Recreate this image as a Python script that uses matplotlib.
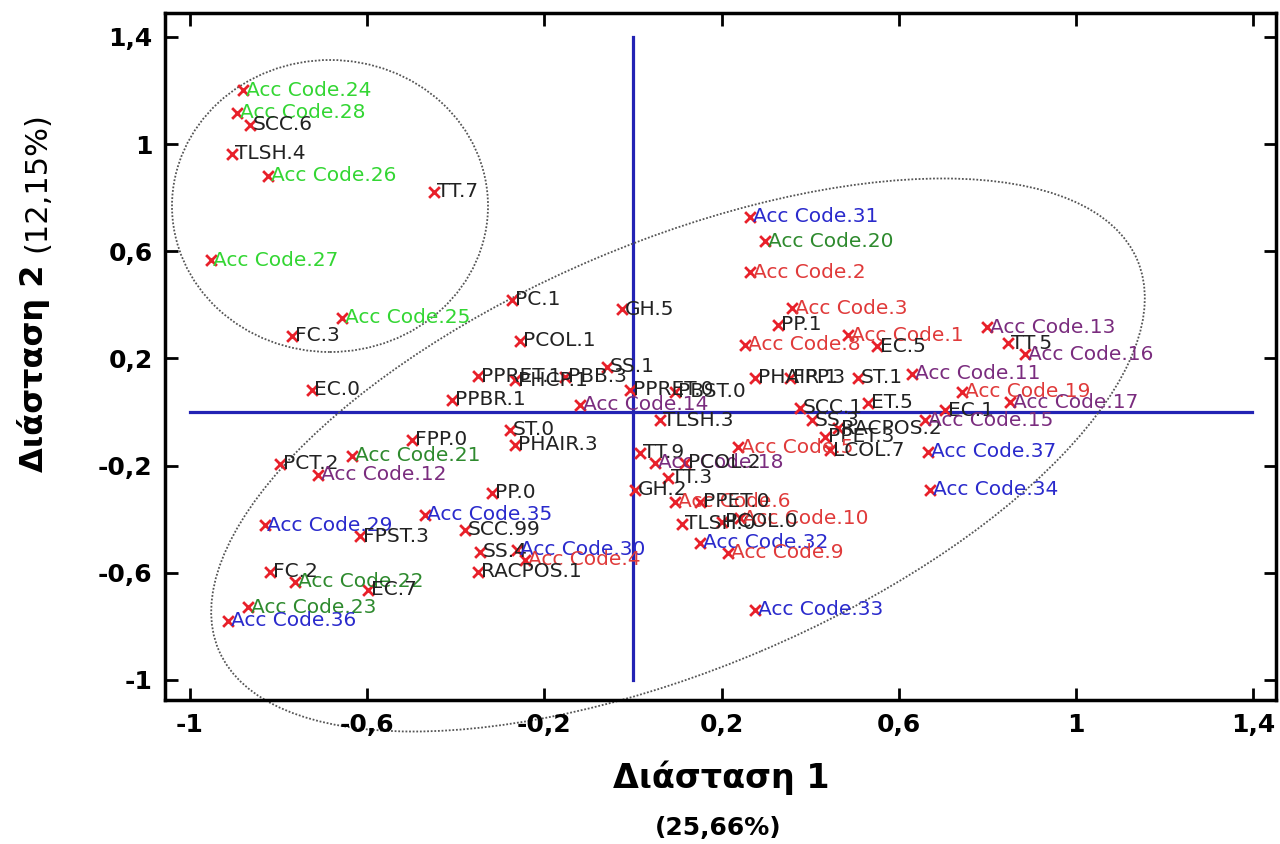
import matplotlib
matplotlib.use('Agg')
import matplotlib.pyplot as plt
from matplotlib.patches import Ellipse
from matplotlib.transforms import IdentityTransform

# ---------------- data ----------------
labels = [
    "Acc Code.24", "Acc Code.28", "SCC.6", "TLSH.4", "Acc Code.26", "TT.7", "Acc Code.27",
    "Acc Code.25", "FC.3", "EC.0", "PC.1", "PCOL.1", "GH.5", "PPRET.1", "PHCP.1", "PBB.3",
    "SS.1", "PPBR.1", "Acc Code.14", "PPRET.0", "PBST.0", "TLSH.3", "ST.0", "PHAIR.3",
    "FPP.0", "PCT.2", "Acc Code.21", "Acc Code.12", "PP.0", "Acc Code.35", "Acc Code.29",
    "FPST.3", "SCC.99", "SS.4", "Acc Code.30", "Acc Code.4", "RACPOS.1", "FC.2",
    "Acc Code.22", "EC.7", "Acc Code.23", "Acc Code.36",
    "Acc Code.31", "Acc Code.20", "Acc Code.2", "Acc Code.3", "PP.1", "Acc Code.1",
    "Acc Code.8", "EC.5", "PHAIR.1", "FPP.3", "ST.1", "Acc Code.11", "Acc Code.13", "TT.5",
    "Acc Code.16", "Acc Code.19", "Acc Code.17", "ET.5", "SCC.1", "SS.3", "RACPOS.2",
    "PPET.3", "EC.1", "Acc Code.15", "Acc Code.5", "LCOL.7", "Acc Code.37", "Acc Code.34",
    "TT.9", "Acc Code.18", "PCOL.2", "TT.3", "GH.2", "Acc Code.6", "PPET.0", "TLSH.0",
    "Acc Code.10", "PCOL.0", "Acc Code.32", "Acc Code.9", "Acc Code.33",
]
dim1 = [
    -0.880, -0.894, -0.865, -0.905, -0.824, -0.449, -0.953,
    -0.657, -0.770, -0.725, -0.273, -0.255, -0.025, -0.350, -0.266, -0.153,
    -0.059, -0.409, -0.120, -0.007, 0.095, 0.061, -0.278, -0.266,
    -0.499, -0.797, -0.634, -0.711, -0.318, -0.470, -0.831,
    -0.616, -0.379, -0.345, -0.262, -0.244, -0.350, -0.819,
    -0.763, -0.598, -0.869, -0.914,
    0.264, 0.298, 0.264, 0.359, 0.327, 0.485,
    0.253, 0.551, 0.275, 0.354, 0.508, 0.630, 0.799, 0.847,
    0.885, 0.743, 0.851, 0.530, 0.377, 0.404, 0.463,
    0.433, 0.704, 0.659, 0.237, 0.445, 0.666, 0.670,
    0.016, 0.050, 0.117, 0.079, 0.005, 0.095, 0.151, 0.111,
    0.242, 0.201, 0.151, 0.214, 0.275,
]
dim2 = [
    1.201, 1.116, 1.071, 0.963, 0.881, 0.821, 0.567,
    0.351, 0.284, 0.082, 0.418, 0.265, 0.384, 0.134, 0.119, 0.131,
    0.168, 0.045, 0.026, 0.082, 0.075, -0.030, -0.067, -0.123,
    -0.104, -0.194, -0.164, -0.235, -0.302, -0.384, -0.422,
    -0.463, -0.440, -0.522, -0.515, -0.552, -0.597, -0.597,
    -0.634, -0.664, -0.728, -0.780,
    0.728, 0.638, 0.522, 0.388, 0.325, 0.287,
    0.250, 0.246, 0.127, 0.127, 0.127, 0.142, 0.317, 0.257,
    0.216, 0.075, 0.037, 0.034, 0.015, -0.030, -0.060,
    -0.093, 0.007, -0.030, -0.131, -0.142, -0.149, -0.291,
    -0.153, -0.190, -0.190, -0.246, -0.291, -0.336, -0.336, -0.418,
    -0.396, -0.410, -0.489, -0.526, -0.739,
]
groups = [
    "lime", "lime", "var", "var", "lime", "var", "lime",
    "lime", "var", "var", "var", "var", "var", "var", "var", "var",
    "var", "var", "purple", "var", "var", "var", "var", "var",
    "var", "var", "dkgreen", "purple", "var", "blue", "blue",
    "var", "var", "var", "blue", "red", "var", "var",
    "dkgreen", "var", "dkgreen", "blue",
    "blue", "dkgreen", "red", "red", "var", "red",
    "red", "var", "var", "var", "var", "purple", "purple", "var",
    "purple", "red", "purple", "var", "var", "var", "var",
    "var", "var", "purple", "red", "var", "blue", "blue",
    "var", "purple", "var", "var", "var", "red", "var", "var",
    "red", "var", "blue", "red", "blue",
]
xticks = [-1, -0.6, -0.2, 0.2, 0.6, 1, 1.4]
xtick_labels = ["-1", "-0,6", "-0,2", "0,2", "0,6", "1", "1,4"]
yticks = [-1, -0.6, -0.2, 0.2, 0.6, 1, 1.4]
ytick_labels = ["-1", "-0,6", "-0,2", "0,2", "0,6", "1", "1,4"]

# ---------------- styles ----------------
group_colors = {
    "lime": "#33d633",
    "dkgreen": "#2e8a2e",
    "blue": "#2a2acc",
    "purple": "#7a2c7e",
    "red": "#e03a3a",
    "var": "#222222",
}

fig = plt.figure(figsize=(12.8, 8.44), dpi=100)
ax = fig.add_axes([165 / 1280, 1 - 700 / 844, (1276 - 165) / 1280, (700 - 13) / 844])
ax.set_xlim(-1.056, 1.451)
ax.set_ylim(-1.075, 1.489)

# axes cross
ax.plot([-1.0, 1.397], [0, 0], color="#2323b4", lw=2.3, zorder=1)
ax.plot([0, 0], [-1.0, 1.4], color="#2323b4", lw=2.3, zorder=1)

# points and labels
ax.scatter(dim1, dim2, marker="x", s=60, color="#e8202a", linewidths=2.0, zorder=3)
for lab, x, y, g in zip(labels, dim1, dim2, groups):
    ax.annotate(lab, (x, y), xytext=(2, 0), textcoords="offset points",
                ha="left", va="center", fontsize=14.5, color=group_colors[g],
                family="DejaVu Sans", zorder=4)

# dotted enclosures (drawn in pixel space)
circ = Ellipse((330, 844 - 206), width=316, height=292, angle=0,
               transform=IdentityTransform(), fill=False, ls=(0, (1, 1)),
               lw=1.3, ec="#555555", clip_on=False)
big = Ellipse((678, 844 - 455), width=998, height=426, angle=23,
              transform=IdentityTransform(), fill=False, ls=(0, (1, 1)),
              lw=1.3, ec="#555555", clip_on=False)
ax.add_patch(circ)
ax.add_patch(big)

# ticks and spines
ax.set_xticks(xticks)
ax.set_xticklabels(xtick_labels)
ax.set_yticks(yticks)
ax.set_yticklabels(ytick_labels)
ax.tick_params(direction="in", length=9, width=2, top=True, right=True,
               labelsize=18, pad=9)
for t in ax.get_xticklabels() + ax.get_yticklabels():
    t.set_fontweight("bold")
    t.set_family("DejaVu Sans")
for s in ax.spines.values():
    s.set_linewidth(2.5)

# axis titles
fig.text(721 / 1280, 1 - 778 / 844, "Διάσταση 1", ha="center", va="center",
         fontsize=24, fontweight="bold", family="DejaVu Sans")
fig.text(718 / 1280, 1 - 828 / 844, "(25,66%)", ha="center", va="center",
         fontsize=18, fontweight="bold", family="DejaVu Sans")
fig.text(34 / 1280, 1 - 472 / 844, "Διάσταση 2", ha="center", va="bottom",
         rotation=90, fontsize=23, fontweight="bold", family="DejaVu Sans")
fig.text(37 / 1280, 1 - 252 / 844, "(12,15%)", ha="center", va="bottom",
         rotation=90, fontsize=22, family="DejaVu Sans")

fig.savefig("out.png", dpi=100)
